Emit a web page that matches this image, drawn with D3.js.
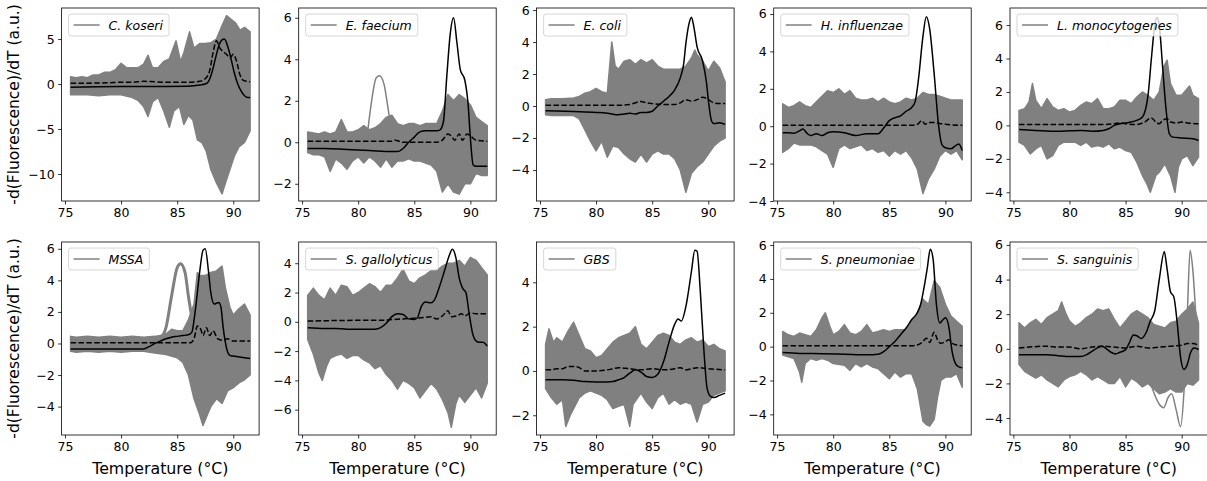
<!DOCTYPE html>
<html><head><meta charset="utf-8">
<script src="https://cdn.jsdelivr.net/npm/d3@7/dist/d3.min.js"></script>
<style>
html,body{margin:0;padding:0;background:#fff;}
text{font-family:"DejaVu Sans",sans-serif;}
</style></head>
<body><svg id="chart" width="1207" height="481"></svg>
<script>
// ---------------- DATA ----------------
const species = ["C. koseri","E. faecium","E. coli","H. influenzae","L. monocytogenes",
                 "MSSA","S. gallolyticus","GBS","S. pneumoniae","S. sanguinis"];
const xTicks = [75,80,85,90];
const yTicksList = [[-10,-5,0,5],[-2,0,2,4,6],[-4,-2,0,2,4,6],[-4,-2,0,2,4,6],[-4,-2,0,2,4,6],
                    [-4,-2,0,2,4,6],[-6,-4,-2,0,2,4],[-2,0,2,4],[-4,-2,0,2,4,6],[-4,-2,0,2,4,6]];
const yLimits = [[-13.0,8.45],[-2.83,6.47],[-5.94,6.13],[-4.0,6.32],[-4.52,7.02],
                 [-5.8,6.43],[-7.73,5.45],[-2.89,5.82],[-5.22,6.18],[-4.98,6.17]];
const xLimits = [74.7,92.3];

// C. koseri
const koseriUpper = [[75.5,0.8],[76,0.7],[76.5,0.8],[77,0.7],[77.5,1.0],[78,1.0],[78.5,1.3],[79,1.3],[79.5,1.6],[80,2.3],[80.5,1.8],[81,1.8],[81.5,1.8],[82,2.2],[82.4,3.2],[82.8,1.8],[83.3,1.8],[83.8,2.5],[84.3,2.8],[84.9,4.8],[85.3,2.5],[85.6,3.5],[86.1,5.8],[86.5,4.0],[87,4.5],[87.5,4.5],[88,4.6],[88.5,5.0],[89,6.5],[89.4,7.6],[89.8,7.2],[90.2,6.8],[90.6,6.0],[91,6.3],[91.5,5.8]];
const koseriLower = [[75.5,-1.2],[76,-1.2],[77,-1.2],[78,-1.3],[79,-1.2],[80,-1.2],[81,-1.5],[81.5,-1.8],[82,-2.5],[82.4,-3.6],[82.8,-2.0],[83.3,-1.5],[83.8,-3.0],[84.3,-4.8],[84.7,-3.0],[85.2,-2.5],[85.6,-4.5],[86,-3.5],[86.4,-4.0],[86.8,-6.2],[87.2,-6.5],[87.6,-7.5],[88,-9.5],[88.5,-11],[89.0,-12.2],[89.3,-11],[89.7,-9.5],[90.1,-8],[90.5,-7],[91,-6.5],[91.5,-5.2]];
const koseriSolid = [[75.5,-0.35],[78,-0.3],[80,-0.28],[82,-0.27],[84,-0.27],[86,-0.25],[86.5,-0.2],[87,-0.1],[87.5,0.0],[87.8,0.3],[88.1,1.3],[88.4,2.8],[88.7,4.2],[89.0,4.9],[89.2,5.0],[89.5,4.2],[89.8,2.8],[90.1,1.2],[90.4,0.0],[90.7,-0.8],[91.0,-1.3],[91.3,-1.5],[91.5,-1.5]];
const koseriDashed = [[75.5,0.1],[77,0.1],[79,0.15],[80,0.2],[81,0.2],[82,0.3],[83,0.25],[84,0.2],[85,0.2],[86,0.2],[87,0.3],[87.5,0.6],[87.9,1.5],[88.2,3.5],[88.5,4.8],[88.8,4.0],[89.1,3.6],[89.4,3.3],[89.7,2.9],[90.0,3.3],[90.3,2.5],[90.6,1.0],[90.9,0.4],[91.2,0.3],[91.5,0.25]];

// E. faecium
const faeciumUpper = [[75.5,0.5],[76,0.45],[76.5,0.4],[77,0.5],[77.5,0.4],[78,0.5],[78.5,1.1],[79,0.5],[79.5,0.5],[80,0.6],[80.5,0.8],[81,0.6],[81.5,0.7],[82,0.9],[82.5,1.2],[83,1.3],[83.5,0.9],[84,0.8],[84.5,0.9],[85,0.9],[85.5,0.8],[86,0.9],[86.5,0.9],[87,0.9],[87.5,1.5],[88,2.3],[88.5,2.0],[89,2.3],[89.5,2.1],[90,1.8],[90.5,1.2],[91,1.0],[91.5,0.8]];
const faeciumLower = [[75.5,-0.5],[76,-0.6],[76.5,-0.6],[77,-0.7],[77.5,-1.4],[78,-0.8],[78.5,-1.0],[79,-1.3],[79.5,-0.9],[80,-0.7],[80.5,-1.0],[81,-0.7],[81.5,-0.9],[82,-1.2],[82.5,-0.8],[83,-1.2],[83.5,-0.9],[84,-0.9],[84.5,-0.8],[85,-0.9],[85.5,-0.9],[86,-1.0],[86.5,-1.1],[87,-1.4],[87.5,-2.4],[88,-2.0],[88.5,-2.4],[89,-2.5],[89.5,-2.0],[90,-2.0],[90.5,-1.5],[91,-1.6],[91.5,-1.6]];
const faeciumExtra = [[80.8,0.3],[81.2,2.0],[81.6,3.1],[81.9,3.2],[82.3,2.8],[82.7,1.5],[83.0,0.5],[83.3,0.3]];
const faeciumSolid = [[75.5,-0.3],[77,-0.3],[79,-0.35],[81,-0.4],[83,-0.45],[83.5,-0.45],[84,-0.3],[84.5,0],[85,0.25],[85.5,0.5],[86,0.55],[86.5,0.55],[87,0.55],[87.3,0.6],[87.6,1.0],[87.9,3.2],[88.2,5.2],[88.5,6.0],[88.8,4.8],[89.1,3.5],[89.5,3.0],[89.8,1.8],[90.0,0.2],[90.25,-1.1],[90.5,-1.15],[91.5,-1.15]];
const faeciumDashed = [[75.5,0.05],[83,0.05],[83.3,0.1],[84,0.0],[87,0.0],[87.5,0.1],[88,0.4],[88.3,0.3],[88.6,0.1],[89,0.4],[89.3,0.1],[89.7,0.4],[90,0.3],[90.5,0.1],[91.5,0.05]];

// E. coli
const coliUpper = [[75.5,0.4],[76,0.45],[77,0.45],[78,0.5],[78.5,0.6],[79,0.8],[79.5,0.9],[80,1.1],[80.5,0.9],[81,0.8],[81.4,4.0],[81.7,2.5],[82,2.3],[82.5,2.8],[83,2.9],[83.5,2.6],[84,2.9],[84.5,2.7],[85,2.9],[85.5,2.5],[86,2.3],[86.5,2.3],[87,2.3],[87.5,2.3],[88,2.5],[88.5,3.0],[88.8,3.5],[89,3.2],[89.5,2.8],[90,2.2],[90.5,2.8],[91,2.4],[91.5,1.5]];
const coliLower = [[75.5,-0.55],[76,-0.6],[77,-0.6],[78,-0.6],[78.5,-0.8],[79,-1.5],[79.5,-2.2],[80,-2.8],[80.5,-2.2],[81,-3.2],[81.5,-2.5],[82,-2.6],[82.5,-3.0],[83,-3.3],[83.5,-3.5],[84,-3.0],[84.5,-3.5],[85,-3.0],[85.5,-2.8],[86,-3.0],[86.5,-3.0],[87,-3.3],[87.5,-4.0],[88,-5.4],[88.5,-4.2],[89,-3.8],[89.5,-3.5],[90,-3.0],[90.5,-2.5],[91,-2.2],[91.5,-2.0]];
const coliSolid = [[75.5,-0.3],[78,-0.35],[80,-0.4],[81,-0.45],[82,-0.55],[82.5,-0.5],[83,-0.45],[83.5,-0.5],[84,-0.4],[84.5,-0.4],[85,-0.33],[85.5,0.0],[86,0.3],[86.5,0.6],[87,1.0],[87.5,1.75],[87.8,2.6],[88,3.9],[88.3,5.2],[88.5,5.55],[88.7,5.0],[89,3.7],[89.5,2.8],[89.85,1.4],[90,0.4],[90.3,-0.95],[90.5,-1.1],[91,-1.05],[91.5,-1.15]];
const coliDashed = [[75.5,0.05],[82,0.05],[83,0.1],[84,0.28],[84.5,0.2],[85,0.15],[86,0.1],[87,0.1],[87.5,0.2],[88,0.4],[88.5,0.3],[89,0.4],[89.5,0.55],[90,0.4],[90.5,0.2],[91,0.15],[91.5,0.15]];

// H. influenzae
const influUpper = [[75.5,1.2],[76,1.0],[76.5,1.1],[77,1.3],[77.5,1.1],[78,1.0],[78.5,1.3],[79,1.6],[79.5,1.9],[80,1.8],[80.5,2.0],[81,1.7],[81.5,1.9],[82,1.5],[82.5,1.4],[83,1.4],[83.5,1.5],[84,1.3],[84.5,1.5],[85,1.3],[85.5,1.2],[86,1.3],[86.5,1.5],[87,1.4],[87.5,1.5],[88,1.8],[88.5,1.7],[89,1.7],[89.5,1.6],[90,1.5],[90.5,1.4],[91,1.4],[91.5,1.4]];
const influLower = [[75.5,-1.4],[76,-1.2],[76.5,-0.9],[77,-1.0],[77.5,-1.0],[78,-1.0],[78.5,-1.1],[79,-1.3],[79.5,-1.5],[80,-2.2],[80.5,-1.2],[81,-1.0],[81.5,-1.2],[82,-1.1],[82.5,-1.0],[83,-1.3],[83.5,-1.2],[84,-1.4],[84.5,-1.3],[85,-1.6],[85.5,-1.3],[86,-1.5],[86.5,-1.3],[87,-1.7],[87.5,-2.3],[88,-3.6],[88.5,-2.8],[89,-2.3],[89.5,-1.6],[90,-1.3],[90.5,-1.5],[91,-1.3],[91.5,-1.8]];
const influSolid = [[75.5,-0.35],[76,-0.35],[76.5,-0.38],[77,-0.25],[77.3,-0.15],[77.7,-0.4],[78,-0.5],[78.5,-0.4],[79,-0.5],[79.5,-0.35],[80,-0.3],[81,-0.35],[82,-0.5],[83,-0.4],[84,-0.4],[84.5,-0.1],[85,0.3],[85.5,0.45],[86,0.55],[86.5,0.8],[87,1.0],[87.3,1.3],[87.6,2.5],[88,4.8],[88.3,5.85],[88.6,5.2],[89,2.8],[89.4,0.0],[89.7,-1.0],[90,-1.15],[90.5,-1.2],[91,-1.0],[91.2,-0.95],[91.5,-1.3]];
const influDashed = [[75.5,0.05],[87,0.05],[87.5,0.1],[87.9,0.3],[88.2,0.1],[88.5,0.2],[89,0.2],[89.5,0.15],[90,0.1],[91.5,0.05]];

// L. monocytogenes
const monoUpper = [[75.5,0.9],[76,1.0],[76.4,1.4],[76.7,2.5],[77,1.5],[77.5,1.0],[78,1.6],[78.5,1.1],[79,0.9],[79.5,1.0],[80,0.8],[80.5,0.9],[81,1.2],[81.5,1.4],[82,1.3],[82.5,1.6],[83,1.0],[83.5,1.0],[84,1.1],[84.5,1.5],[85,1.5],[85.5,1.3],[86,1.7],[86.5,2.0],[87,1.8],[87.5,1.5],[88,2.0],[88.4,3.5],[88.7,3.9],[89,2.5],[89.5,1.8],[90,1.8],[90.7,2.35],[91,1.8],[91.5,1.6]];
const monoLower = [[75.5,-1.0],[76,-1.2],[76.5,-1.7],[77,-1.4],[77.5,-1.2],[78,-2.0],[78.5,-1.8],[79,-1.2],[79.5,-1.0],[80,-1.0],[80.5,-1.0],[81,-1.2],[81.5,-1.0],[82,-1.3],[82.5,-1.2],[83,-1.3],[83.5,-1.1],[84,-1.4],[84.5,-1.3],[85,-1.5],[85.5,-1.6],[86,-2.2],[86.5,-3.0],[86.9,-3.5],[87.2,-4.0],[87.7,-3.0],[88,-2.8],[88.5,-2.3],[89,-3.0],[89.4,-4.0],[89.7,-2.5],[90,-2.0],[90.5,-1.8],[91,-2.4],[91.5,-1.9]];
const monoSolid = [[75.5,-0.25],[77,-0.3],[79,-0.35],[81,-0.3],[82,-0.35],[83,-0.3],[83.5,-0.2],[84,0.0],[84.5,0.1],[85,0.15],[85.5,0.2],[86,0.3],[86.5,0.5],[87,1.8],[87.3,4.0],[87.6,6.0],[87.8,6.45],[88,6.0],[88.3,3.5],[88.6,1.0],[88.9,-0.5],[89.2,-0.7],[90,-0.75],[91,-0.8],[91.5,-0.9]];
const monoDashed = [[75.5,0.05],[83,0.05],[84,0.1],[84.5,0.15],[85,0.1],[86,0.05],[86.7,0.2],[87.3,0.45],[87.7,0.2],[88,0.1],[88.3,0.3],[88.7,0.4],[89,0.2],[89.5,0.15],[90,0.2],[90.5,0.15],[91.5,0.1]];

// MSSA
const mssaUpper = [[75.5,0.45],[76,0.4],[77,0.45],[78,0.4],[79,0.45],[80,0.4],[81,0.45],[82,0.4],[83,0.45],[83.5,0.5],[84,0.6],[84.5,0.9],[85,0.8],[85.5,0.8],[86,1.5],[86.5,2.5],[86.8,4.5],[87,4.3],[87.5,4.3],[88,4.5],[88.5,4.6],[89,4.9],[89.3,3.5],[89.7,2.3],[90,1.8],[90.5,2.2],[91,2.5],[91.5,1.8]];
const mssaLower = [[75.5,-0.5],[76,-0.55],[77,-0.5],[78,-0.55],[79,-0.5],[80,-0.55],[81,-0.5],[82,-0.5],[83,-0.6],[84,-0.7],[85,-0.9],[85.5,-1.2],[86,-2.0],[86.5,-3.5],[87,-4.5],[87.3,-5.2],[87.7,-4.5],[88,-4.0],[88.5,-3.5],[89,-3.8],[89.5,-3.0],[90,-2.8],[90.5,-2.5],[91,-2.3],[91.5,-2.0]];
const mssaExtra = [[83.5,0.3],[84,1.0],[84.5,3.0],[85,4.8],[85.3,5.05],[85.7,4.5],[86,3.0],[86.5,1.0],[87,0.3]];
const mssaSolid = [[75.5,-0.35],[82,-0.35],[82.5,-0.2],[83,0.0],[83.5,0.15],[84,0.3],[84.5,0.4],[85,0.45],[85.5,0.5],[86,0.55],[86.3,0.7],[86.6,2.0],[87,4.5],[87.3,5.9],[87.5,6.0],[87.8,4.5],[88,3.2],[88.3,2.5],[88.7,2.6],[88.9,2.3],[89.1,1.0],[89.4,-0.3],[89.7,-0.75],[90,-0.8],[91,-0.9],[91.5,-0.95]];
const mssaDashed = [[75.5,0.05],[86.2,0.05],[86.5,0.3],[86.8,1.1],[87.1,0.9],[87.3,0.5],[87.6,1.0],[87.9,0.5],[88.2,0.8],[88.6,0.3],[89.0,0.2],[89.5,0.3],[90,0.15],[91.5,0.15]];

// S. gallolyticus
const galloUpper = [[75.5,1.8],[76,2.3],[76.5,1.8],[77,1.5],[77.5,2.3],[78,1.8],[78.5,2.5],[79,2.4],[79.5,1.8],[80,2.0],[80.5,2.3],[81,2.6],[81.5,2.4],[82,2.0],[82.5,2.5],[83,2.5],[83.5,3.0],[84,3.6],[84.5,2.8],[85,2.6],[85.5,3.0],[86,3.2],[86.5,3.5],[87,3.5],[87.5,3.8],[88,4.0],[88.5,4.0],[89,4.2],[89.5,3.8],[90,4.4],[90.5,4.2],[91,3.7],[91.5,3.2]];
const galloLower = [[75.5,-1.2],[76,-2.2],[76.5,-3.5],[76.8,-4.0],[77.2,-3.0],[77.5,-2.5],[78,-2.3],[78.5,-2.2],[79,-2.5],[79.5,-2.3],[80,-2.3],[80.5,-2.6],[81,-2.8],[81.5,-3.2],[82,-3.0],[82.5,-3.6],[83,-4.0],[83.5,-4.6],[84,-4.0],[84.5,-4.2],[85,-4.5],[85.5,-5.2],[86,-4.7],[86.5,-4.2],[87,-4.6],[87.5,-5.3],[88,-6.2],[88.3,-7.2],[88.7,-5.6],[89,-5.0],[89.5,-5.5],[90,-5.0],[90.5,-4.5],[91,-5.2],[91.5,-4.2]];
const galloSolid = [[75.5,-0.4],[77,-0.45],[78,-0.45],[79,-0.5],[80,-0.5],[81,-0.5],[81.5,-0.5],[82,-0.4],[82.5,-0.1],[83,0.35],[83.5,0.55],[84,0.5],[84.5,0.2],[85,0.15],[85.3,0.3],[85.6,1.0],[86,1.35],[86.5,1.3],[86.8,1.5],[87.2,2.3],[87.7,3.5],[88.1,4.5],[88.4,4.95],[88.7,4.4],[89.0,3.0],[89.3,2.3],[89.6,2.0],[89.9,0.5],[90.2,-0.8],[90.5,-1.3],[90.8,-1.4],[91.1,-1.4],[91.5,-1.65]];
const galloDashed = [[75.5,0.05],[80,0.1],[82,0.1],[83,0.15],[84,0.2],[85,0.25],[86,0.3],[86.5,0.35],[87,0.2],[87.5,0.4],[88,0.75],[88.3,0.35],[88.8,0.4],[89.2,0.55],[89.5,0.4],[90,0.6],[90.5,0.55],[91,0.55],[91.5,0.55]];

// GBS
const gbsUpper = [[75.5,1.2],[75.8,1.9],[76.2,1.3],[76.5,1.5],[77,1.3],[77.5,1.8],[78,2.2],[78.5,1.6],[79,1.0],[79.5,0.9],[80,0.6],[80.5,0.7],[81,1.0],[81.5,1.3],[82,1.5],[82.5,1.6],[83,1.7],[83.5,2.0],[84,1.2],[84.5,1.0],[85,1.3],[85.5,1.6],[86,1.7],[86.5,1.6],[87,1.3],[87.5,1.2],[88,1.4],[88.5,1.5],[89,1.3],[89.5,1.4],[90,1.1],[90.5,1.2],[91,1.0],[91.5,0.9]];
const gbsLower = [[75.5,-0.8],[76,-1.2],[76.5,-1.5],[77,-1.3],[77.3,-2.5],[77.7,-2.0],[78,-1.7],[78.5,-1.2],[79,-1.0],[79.5,-0.9],[80,-1.0],[80.5,-1.1],[81,-1.3],[81.5,-1.7],[82,-1.6],[82.5,-1.5],[83,-2.5],[83.3,-1.5],[84,-1.0],[84.5,-1.4],[85,-1.7],[85.5,-1.2],[86,-1.0],[86.5,-1.5],[87,-1.3],[87.5,-1.5],[88,-1.4],[88.5,-1.5],[89,-2.3],[89.5,-1.5],[90,-1.4],[90.5,-1.1],[91,-1.0],[91.5,-0.9]];
const gbsSolid = [[75.5,-0.4],[77,-0.4],[78,-0.42],[79,-0.48],[80,-0.5],[81,-0.5],[81.5,-0.48],[82,-0.4],[82.5,-0.3],[83,-0.1],[83.5,0.05],[84,-0.05],[84.5,-0.25],[85,-0.3],[85.5,-0.15],[86,0.4],[86.5,1.3],[87,2.1],[87.3,2.35],[87.6,2.25],[88,2.9],[88.5,4.5],[88.8,5.45],[89.0,5.4],[89.3,3.5],[89.6,1.0],[89.9,-0.8],[90.2,-1.15],[90.5,-1.2],[91,-1.1],[91.5,-1.0]];
const gbsDashed = [[75.5,0.05],[76,0.05],[76.5,0.1],[77,0.1],[77.5,0.2],[78,0.2],[78.5,0.15],[79,0.0],[80,0.0],[81,0.05],[81.5,0.1],[82,0.15],[83,0.1],[84,0.05],[85,0.1],[86,0.05],[87,0.1],[87.5,0.15],[88,0.05],[88.5,0.1],[89,0.15],[90,0.1],[91.5,0.05]];

// S. pneumoniae
const pneuUpper = [[75.5,0.9],[76,0.7],[76.5,0.6],[77,0.8],[77.5,0.7],[78,0.6],[78.5,1.0],[79,1.7],[79.3,2.0],[79.7,1.2],[80,0.7],[80.5,0.9],[81,1.3],[81.5,0.8],[82,0.7],[82.5,0.9],[83,1.3],[83.5,0.8],[84,0.9],[84.5,1.0],[85,0.9],[85.5,1.0],[86,1.0],[86.5,1.0],[87,1.5],[87.5,2.0],[88,2.8],[88.5,2.5],[89,3.9],[89.5,3.5],[90,2.5],[90.5,1.8],[91,1.5],[91.5,1.2]];
const pneuLower = [[75.5,-0.5],[76,-0.6],[76.5,-0.7],[77,-1.5],[77.2,-2.1],[77.5,-1.0],[78,-0.7],[78.5,-0.8],[79,-0.7],[79.5,-0.8],[80,-1.0],[81,-1.1],[81.5,-1.4],[82,-1.0],[82.5,-1.2],[83,-1.0],[83.5,-1.2],[84,-1.3],[84.5,-1.6],[85,-1.9],[85.5,-1.5],[86,-1.8],[86.5,-1.6],[87,-1.6],[87.5,-2.5],[88,-4.4],[88.3,-4.6],[88.6,-4.7],[89,-4.3],[89.3,-3.0],[89.6,-2.0],[90,-1.8],[90.5,-1.8],[91,-1.6],[91.5,-2.4]];
const pneuSolid = [[75.5,-0.35],[77,-0.4],[79,-0.42],[81,-0.45],[83,-0.48],[84,-0.45],[84.5,-0.3],[85,0.0],[85.5,0.3],[86,0.7],[86.5,1.1],[87,1.6],[87.5,2.0],[87.8,2.5],[88.1,3.5],[88.4,4.7],[88.65,5.75],[88.9,5.2],[89.2,2.5],[89.5,1.4],[89.8,1.6],[90.0,1.7],[90.3,1.2],[90.6,-0.3],[90.9,-1.0],[91.2,-1.2],[91.5,-1.25]];
const pneuDashed = [[75.5,0.05],[87,0.05],[87.5,0.1],[88,0.3],[88.3,0.5],[88.6,0.25],[89.0,0.85],[89.3,0.4],[89.6,0.2],[90,0.3],[90.3,0.4],[90.6,0.2],[91,0.1],[91.5,0.05]];

// S. sanguinis
const sangUpper = [[75.5,1.5],[76,1.2],[76.5,1.5],[77,1.7],[77.5,1.4],[78,1.8],[78.5,2.0],[79,2.2],[79.3,2.7],[79.7,2.0],[80,1.6],[80.5,1.3],[81,1.5],[81.5,1.8],[82,2.0],[82.5,2.3],[83,2.2],[83.5,2.3],[84,1.7],[84.5,1.2],[85,1.6],[85.5,2.0],[86,2.2],[86.5,2.0],[87,1.8],[87.5,1.4],[88,1.3],[88.5,1.2],[89,1.5],[89.5,1.6],[90,2.0],[90.5,2.3],[91,2.7],[91.5,1.5]];
const sangLower = [[75.5,-0.9],[76,-1.3],[76.5,-1.5],[77,-1.7],[77.5,-1.5],[78,-1.8],[78.5,-2.0],[79,-2.2],[79.5,-1.8],[80,-1.6],[80.5,-1.5],[81,-1.3],[81.5,-1.5],[82,-1.8],[82.5,-1.6],[83,-1.8],[83.5,-2.0],[84,-2.0],[84.5,-1.6],[85,-2.2],[85.5,-1.7],[86,-1.9],[86.5,-2.2],[87,-2.0],[87.5,-2.3],[88,-2.6],[88.5,-2.5],[89,-2.3],[89.5,-2.5],[90,-2.5],[90.5,-2.0],[91,-2.1],[91.5,-1.8]];
const sangExtra = [[87.0,-1.5],[87.5,-2.5],[88.0,-3.2],[88.4,-3.4],[88.8,-2.8],[89.1,-2.6],[89.5,-3.5],[89.9,-4.5],[90.2,-2.5],[90.5,2.0],[90.75,5.7],[91.0,4.5],[91.3,1.5],[91.5,-0.5]];
const sangSolid = [[75.5,-0.35],[77,-0.35],[78,-0.35],[79,-0.4],[80,-0.45],[81,-0.45],[81.5,-0.35],[82,-0.15],[82.5,0.05],[82.9,0.15],[83.3,0.0],[83.7,-0.2],[84.1,-0.3],[84.5,-0.2],[85,-0.05],[85.3,0.3],[85.7,0.8],[86.0,0.75],[86.4,0.6],[86.8,0.9],[87.2,1.6],[87.6,2.2],[88.0,4.0],[88.45,5.6],[88.7,4.6],[89.0,3.3],[89.3,3.0],[89.6,1.5],[89.9,-0.5],[90.2,-1.2],[90.5,-0.9],[90.8,-0.2],[91.1,0.05],[91.4,0.0],[91.5,-0.05]];
const sangDashed = [[75.5,0.05],[78,0.15],[79,0.1],[80,0.1],[81,0.0],[82,0.1],[83,0.15],[84,0.1],[85,0.05],[86,0.15],[87,0.05],[88,0.1],[89,0.15],[90,0.2],[90.5,0.3],[91,0.3],[91.5,0.2]];

// ---------------- ASSEMBLY ----------------
const uppers = [koseriUpper,faeciumUpper,coliUpper,influUpper,monoUpper,mssaUpper,galloUpper,gbsUpper,pneuUpper,sangUpper];
const lowers = [koseriLower,faeciumLower,coliLower,influLower,monoLower,mssaLower,galloLower,gbsLower,pneuLower,sangLower];
const solids = [koseriSolid,faeciumSolid,coliSolid,influSolid,monoSolid,mssaSolid,galloSolid,gbsSolid,pneuSolid,sangSolid];
const dasheds = [koseriDashed,faeciumDashed,coliDashed,influDashed,monoDashed,mssaDashed,galloDashed,gbsDashed,pneuDashed,sangDashed];
const extras = [[],[faeciumExtra],[],[],[],[mssaExtra],[],[],[],[sangExtra]];
const extraWidths = [1.5,1.5,1.5,1.5,1.5,3,1.5,1.5,1.5,1.5];

const svg = d3.select("#chart");
const colLeft = [61.6, 298.7, 536.6, 773.7, 1010];
const rowTop = [8, 242];
const W = 197.5, H = 193;
const GRAY = "#808080";

species.forEach((name, i) => {
  const r = Math.floor(i/5), c = i%5;
  const x0 = colLeft[c], y0 = rowTop[r];
  const x = d3.scaleLinear().domain(xLimits).range([0, W]);
  const y = d3.scaleLinear().domain(yLimits[i]).range([H, 0]);
  const g = svg.append("g").attr("transform", `translate(${x0},${y0})`);
  const cid = "clip"+i;
  g.append("clipPath").attr("id", cid).append("rect").attr("width", W).attr("height", H);
  const plot = g.append("g").attr("clip-path", `url(#${cid})`);

  const line = d3.line().x(d=>x(d[0])).y(d=>y(d[1]));
  const smooth = d3.line().x(d=>x(d[0])).y(d=>y(d[1])).curve(d3.curveMonotoneX);

  const poly = uppers[i].concat(lowers[i].slice().reverse());
  plot.append("path").attr("d", line(poly) + "Z")
    .attr("fill", GRAY).attr("stroke", GRAY).attr("stroke-width", 1.5).attr("stroke-linejoin","round");
  extras[i].forEach(ex => {
    plot.append("path").attr("d", smooth(ex)).attr("fill","none")
      .attr("stroke", GRAY).attr("stroke-width", extraWidths[i]).attr("stroke-linecap","round");
  });
  plot.append("path").attr("d", smooth(dasheds[i])).attr("fill","none")
    .attr("stroke","#000").attr("stroke-width",1.5).attr("stroke-dasharray","5.5,2.4");
  plot.append("path").attr("d", smooth(solids[i])).attr("fill","none")
    .attr("stroke","#000").attr("stroke-width",1.5);

  const xa = g.append("g").attr("transform", `translate(0,${H})`)
    .call(d3.axisBottom(x).tickValues(xTicks).tickSize(3.5).tickPadding(3.5).tickFormat(d3.format("d")));
  const ya = g.append("g")
    .call(d3.axisLeft(y).tickValues(yTicksList[i]).tickSize(3.5).tickPadding(3.5).tickFormat(d3.format("d")));
  [xa, ya].forEach(a => {
    a.select(".domain").remove();
    a.selectAll("line").attr("stroke","#000").attr("stroke-width",0.8);
    a.selectAll("text").attr("font-size", 12.5).attr("fill","#000").attr("font-family","DejaVu Sans");
  });
  g.append("rect").attr("width", W).attr("height", H).attr("fill","none")
    .attr("stroke","#000").attr("stroke-width",0.8);

  const lg = g.append("g").attr("transform","translate(7,6)");
  const box = lg.append("rect").attr("height", 22).attr("rx", 2.5)
    .attr("fill","#fff").attr("fill-opacity",0.8).attr("stroke","#cccccc").attr("stroke-width",0.8);
  lg.append("line").attr("x1",5).attr("x2",31).attr("y1",11).attr("y2",11)
    .attr("stroke",GRAY).attr("stroke-width",1.5);
  const t = lg.append("text").attr("x",40).attr("y",15.5).attr("font-size",12.5)
    .attr("font-style","italic").attr("fill","#000").text(name);
  box.attr("width", 40 + t.node().getComputedTextLength() + 6);

  if (c === 0) {
    svg.append("text").attr("transform", `translate(19,${y0 + H/2}) rotate(-90)`)
      .attr("text-anchor","middle").attr("font-size",15.5).attr("fill","#000")
      .text("-d(Fluorescence)/dT (a.u.)");
  }
  if (r === 1) {
    svg.append("text").attr("x", x0 + W/2).attr("y", 474).attr("text-anchor","middle")
      .attr("font-size",15.8).attr("fill","#000").text("Temperature (°C)");
  }
});
</script></body></html>
